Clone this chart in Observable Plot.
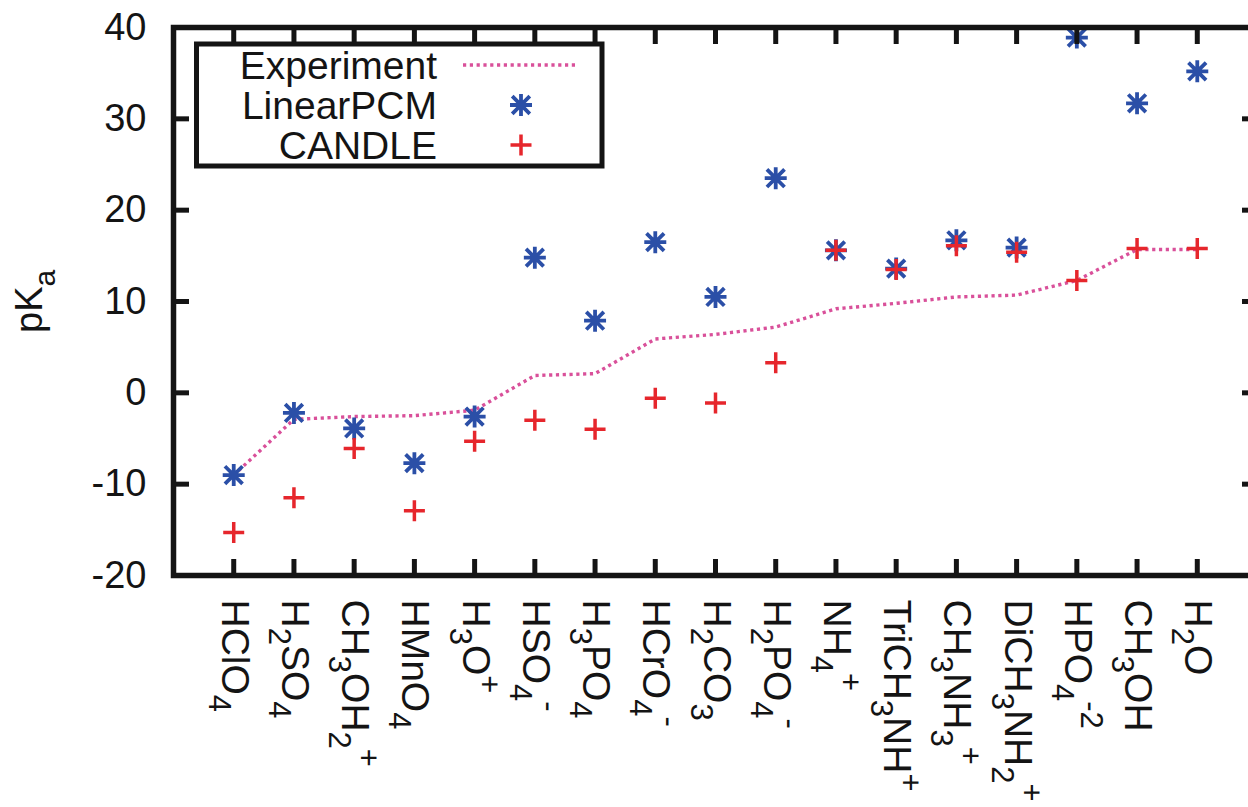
<!DOCTYPE html>
<html><head><meta charset="utf-8">
<script src="https://cdn.jsdelivr.net/npm/d3@7"></script>
<script src="https://cdn.jsdelivr.net/npm/@observablehq/plot@0.6"></script>
<style>body{margin:0;background:#fff;}#chart svg{display:block;}</style>
</head><body><div id="chart"></div>
<script>
const categories = ["HClO_4","H_2SO_4","CH_3OH_2^+","HMnO_4","H_3O^+","HSO_4^-","H_3PO_4","HCrO_4^-","H_2CO_3","H_2PO_4^-","NH_4^+","TriCH_3NH^+","CH_3NH_3^+","DiCH_3NH_2^+","HPO_4^{-2}","CH_3OH","H_2O"];
const experiment = [-9.0,-2.9,-2.6,-2.5,-1.9,1.9,2.1,5.9,6.4,7.2,9.2,9.8,10.5,10.7,12.3,15.7,15.7];
const linearPCM  = [-9.0,-2.2,-3.9,-7.7,-2.6,14.8,7.9,16.5,10.5,23.5,15.6,13.6,16.7,15.9,38.9,31.7,35.2];
const candle     = [-15.3,-11.5,-6.1,-12.9,-5.3,-3.0,-4.0,-0.6,-1.1,3.3,15.6,13.5,16.1,15.4,12.3,15.8,15.8];
const yTicks = [-20,-10,0,10,20,30,40];
const legendLabels = ["Experiment","LinearPCM","CANDLE"];
const yLabel = "pK_a";

const FONT = "'Liberation Sans', Arial, Helvetica, sans-serif";
const INK = "#141414";
const C_EXP = "#d9509a", C_LIN = "#2b4fa7", C_CAN = "#e6262c";
const DASH = "3.2 3.6";

const idx = categories.map((_, i) => i + 1);
const rows = categories.map((c, i) => ({i: i + 1, exp: experiment[i], lin: linearPCM[i], can: candle[i]}));

const asterisk = {draw(ctx, size) {
  const r = Math.sqrt(size / Math.PI), d = r * 0.8;
  ctx.moveTo(-r, 0); ctx.lineTo(r, 0);
  ctx.moveTo(0, -r); ctx.lineTo(0, r);
  ctx.moveTo(-d, -d); ctx.lineTo(d, d);
  ctx.moveTo(-d, d); ctx.lineTo(d, -d);
}};
const plus = {draw(ctx, size) {
  const r = Math.sqrt(size / Math.PI);
  ctx.moveTo(-r, 0); ctx.lineTo(r, 0);
  ctx.moveTo(0, -r); ctx.lineTo(0, r);
}};

const blank = () => "";
const chart = Plot.plot({
  width: 1248, height: 807,
  marginLeft: 173, marginRight: -9, marginTop: 27, marginBottom: 232,
  x: {type: "linear", domain: [0, 18], axis: null},
  y: {domain: [-20, 40], axis: null},
  style: {fontFamily: FONT, fontSize: "37px", color: INK, background: "white", overflow: "hidden"},
  marks: [
    Plot.line(rows, {x: "i", y: "exp", stroke: C_EXP, strokeWidth: 3.4, strokeDasharray: DASH, strokeLinecap: "butt", strokeLinejoin: "miter"}),
    Plot.dot(rows, {x: "i", y: "lin", symbol: asterisk, r: 11, stroke: C_LIN, strokeWidth: 3.8, fill: "none"}),
    Plot.dot(rows, {x: "i", y: "can", symbol: plus, r: 10.5, stroke: C_CAN, strokeWidth: 3.5, fill: "none"}),
    Plot.axisY({anchor: "left", ticks: yTicks, tickSize: 0, tickPadding: 27, fontSize: 38, tickFormat: d => String(d), label: null}),
    Plot.axisY({anchor: "left", ticks: yTicks, tickSize: -16, tickFormat: blank, stroke: INK, strokeWidth: 5, label: null}),
    Plot.axisY({anchor: "right", ticks: yTicks, tickSize: -16, tickFormat: blank, stroke: INK, strokeWidth: 5, label: null}),
    Plot.axisX({anchor: "bottom", ticks: idx, tickSize: 0, tickPadding: 24, tickFormat: i => categories[i - 1], rotate: 90, textAnchor: "start", fontSize: 39, label: null}),
    Plot.axisX({anchor: "bottom", ticks: idx, tickSize: -16, tickFormat: blank, stroke: INK, strokeWidth: 5, label: null}),
    Plot.axisX({anchor: "top", ticks: idx, tickSize: -16, tickFormat: blank, stroke: INK, strokeWidth: 5, label: null}),
    Plot.frame({stroke: INK, strokeWidth: 5.5})
  ]
});
document.getElementById("chart").appendChild(chart);

function parse(s) {
  const segs = []; let i = 0, cur = "";
  while (i < s.length) {
    const c = s[i];
    if (c === "_" || c === "^") {
      if (cur) segs.push({t: cur, l: 0}); cur = "";
      const lv = c === "_" ? -1 : 1; i++;
      let t;
      if (s[i] === "{") { const j = s.indexOf("}", i); t = s.slice(i + 1, j); i = j + 1; }
      else { t = s[i]; i++; }
      segs.push({t, l: lv});
    } else { cur += c; i++; }
  }
  if (cur) segs.push({t: cur, l: 0});
  return segs;
}
function richText(textEl, s, subShift, supShift, subSize) {
  const sel = d3.select(textEl);
  sel.text(null);
  let prev = 0;
  for (const seg of parse(s)) {
    const sh = seg.l === -1 ? subShift : seg.l === 1 ? -supShift : 0;
    const ts = sel.append("tspan").attr("dy", sh - prev).text(seg.t);
    if (seg.l !== 0) ts.attr("font-size", subSize);
    prev = sh;
  }
}

const svg = d3.select(chart);
svg.selectAll("g[aria-label='x-axis tick label'] text").each(function() {
  const s = this.textContent;
  if (!s) return;
  this.setAttribute("y", 12);
  this.removeAttribute("dy");
  richText(this, s, 13, 16, 31);
});

// y axis title
const yt = svg.append("text")
  .attr("transform", "translate(42,333) rotate(-90)")
  .attr("font-family", FONT).attr("font-size", 38).attr("fill", INK)
  .attr("text-anchor", "start");
richText(yt.node(), yLabel, 13, 16, 30);

// legend
const lg = svg.append("g").attr("font-family", FONT).attr("font-size", 39).attr("fill", INK);
lg.append("rect").attr("x", 196.5).attr("y", 44).attr("width", 405.5).attr("height", 122)
  .attr("fill", "white").attr("stroke", INK).attr("stroke-width", 5);
const rowsY = [65, 105, 145];
legendLabels.forEach((t, k) => {
  lg.append("text").attr("x", 437).attr("y", rowsY[k] + 13.5).attr("text-anchor", "end").text(t);
});
lg.append("line").attr("x1", 463).attr("x2", 577).attr("y1", rowsY[0]).attr("y2", rowsY[0])
  .attr("stroke", C_EXP).attr("stroke-width", 3.4).attr("stroke-dasharray", DASH);
const sym = (type, r) => d3.symbol().type(type).size(r * r * Math.PI)();
lg.append("path").attr("d", sym(asterisk, 11)).attr("transform", `translate(521,${rowsY[1]})`)
  .attr("fill", "none").attr("stroke", C_LIN).attr("stroke-width", 3.8);
lg.append("path").attr("d", sym(plus, 10.5)).attr("transform", `translate(521,${rowsY[2]})`)
  .attr("fill", "none").attr("stroke", C_CAN).attr("stroke-width", 3.5);
</script>
</body></html>
